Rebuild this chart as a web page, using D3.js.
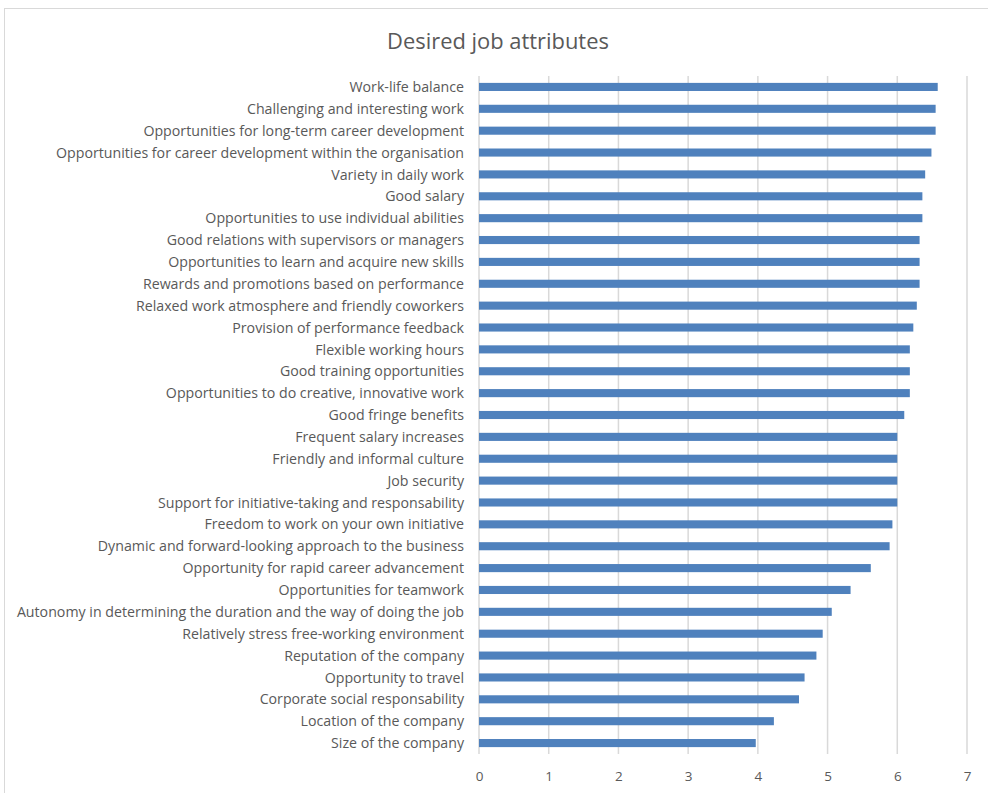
<!DOCTYPE html>
<html><head><meta charset="utf-8">
<script src="https://cdn.jsdelivr.net/npm/d3@7"></script>
<style>body{margin:0;background:#fff;} svg{display:block;}</style>
</head><body>
<svg id="chart" width="988" height="793"></svg>
<script>
const title = "Desired job attributes";
const categories = [
  "Work-life balance",
  "Challenging and interesting work",
  "Opportunities for long-term career development",
  "Opportunities for career development within the organisation",
  "Variety in daily work",
  "Good salary",
  "Opportunities to use individual abilities",
  "Good relations with supervisors or managers",
  "Opportunities to learn and acquire new skills",
  "Rewards and promotions based on performance",
  "Relaxed work atmosphere and friendly coworkers",
  "Provision of performance feedback",
  "Flexible working hours",
  "Good training opportunities",
  "Opportunities to do creative, innovative work",
  "Good fringe benefits",
  "Frequent salary increases",
  "Friendly and informal culture",
  "Job security",
  "Support for initiative-taking and responsability",
  "Freedom to work on your own initiative",
  "Dynamic and forward-looking approach to the business",
  "Opportunity for rapid career advancement",
  "Opportunities for teamwork",
  "Autonomy in determining the duration and the way of doing the job",
  "Relatively stress free-working environment",
  "Reputation of the company",
  "Opportunity to travel",
  "Corporate social responsability",
  "Location of the company",
  "Size of the company"
];
const values = [6.58, 6.55, 6.55, 6.49, 6.40, 6.36, 6.36, 6.32, 6.32, 6.32, 6.28, 6.23,
  6.18, 6.18, 6.18, 6.10, 6.00, 6.00, 6.00, 6.00, 5.93, 5.89, 5.62, 5.33, 5.06, 4.93,
  4.84, 4.67, 4.59, 4.23, 3.97];
const xTicks = [0, 1, 2, 3, 4, 5, 6, 7];

(function () {
const svg = d3.select("#chart");
const font = "'Open Sans', 'Noto Sans', sans-serif";

// chart border
svg.append("rect").attr("x", 4.5).attr("y", 8.5).attr("width", 1000).attr("height", 800)
  .attr("fill", "none").attr("stroke", "#d9d9d9").attr("stroke-width", 1);

const mLeft = 479, mRight = 967, mTop = 76, mBottom = 754;
const x = d3.scaleLinear().domain([0, 7]).range([mLeft, mRight]);
const y = d3.scaleBand().domain(categories).range([mTop, mBottom]).paddingInner(0.63).paddingOuter(0.315);

// gridlines
svg.append("g").selectAll("line").data(xTicks).join("line")
  .attr("x1", d => x(d)).attr("x2", d => x(d))
  .attr("y1", mTop).attr("y2", mBottom)
  .attr("stroke", "#d9d9d9").attr("stroke-width", 1.5);

// bars
svg.append("g").selectAll("rect").data(categories).join("rect")
  .attr("x", x(0))
  .attr("y", d => y(d))
  .attr("width", (d, i) => x(values[i]) - x(0))
  .attr("height", y.bandwidth())
  .attr("fill", "#4f81bd");

// x axis labels
const xAxis = d3.axisBottom(x).tickValues(xTicks).tickFormat(d3.format("d")).tickSize(0).tickPadding(17);
const gx = svg.append("g").attr("transform", `translate(0,${mBottom})`).call(xAxis);
gx.select(".domain").remove();
gx.selectAll("text").attr("font-family", font).attr("font-size", 13.5).attr("fill", "#595959");

// y axis labels
const yAxis = d3.axisLeft(y).tickSize(0).tickPadding(15);
const gy = svg.append("g").attr("transform", `translate(${mLeft},0)`).call(yAxis);
gy.select(".domain").remove();
gy.selectAll("text").attr("font-family", font).attr("font-size", 14.2).attr("fill", "#595959")
  .attr("dy", "0.36em");

// title
svg.append("text").attr("x", 498).attr("y", 49).attr("text-anchor", "middle")
  .attr("font-family", font).attr("font-size", 21.9).attr("fill", "#595959").text(title);
})();
</script>
</body></html>
